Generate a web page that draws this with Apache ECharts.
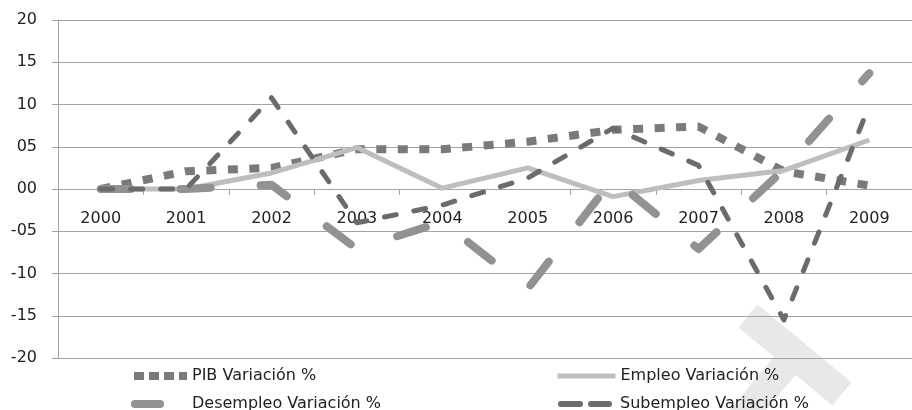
<!DOCTYPE html>
<html>
<head>
<meta charset="utf-8">
<script src="https://cdn.jsdelivr.net/npm/echarts@6/dist/echarts.min.js"></script>
<style>
html, body { margin: 0; padding: 0; background: #fff; }
#chart { width: 912px; height: 410px; }
</style>
</head>
<body>
<div id="chart"></div>
<script>
var years = ['2000', '2001', '2002', '2003', '2004', '2005', '2006', '2007', '2008', '2009'];
var pib = [0, 2.1, 2.5, 4.7, 4.7, 5.6, 7.0, 7.4, 2.1, 0.4];
var empleo = [0, 0, 1.9, 4.9, 0.1, 2.5, -0.9, 1.0, 2.2, 5.8];
var desempleo = [0, 0, 0.5, -7.1, -3.9, -11.8, 1.2, -7.1, 2.3, 13.7];
var subempleo = [0, 0, 10.8, -4.0, -1.9, 1.3, 7.2, 2.8, -15.5, 9.9];
var yTicks = [-20, -15, -10, -5, 0, 5, 10, 15, 20];
var yTickLabels = ['-20', '-15', '-10', '-05', '00', '05', '10', '15', '20'];
var names = ['PIB Variación %', 'Empleo Variación %', 'Desempleo Variación %', 'Subempleo Variación %'];

var font = 'DejaVu Sans';
var txt = { fontFamily: font, fontSize: 16, color: '#222' };

function legendAt(name, left, top, w, lineStyle, pad) {
    return {
        data: [name], left: left, top: top, padding: 0,
        itemWidth: w, itemHeight: 14,
        itemStyle: { opacity: 0 },
        lineStyle: lineStyle,
        textStyle: Object.assign({ padding: [0, 0, 0, pad] }, txt)
    };
}

var chart = echarts.init(document.getElementById('chart'));
chart.setOption({
    animation: false,
    grid: { left: 58, right: -10, top: 20, bottom: 52 },
    graphic: [
        // light watermark in the lower right
        { type: 'polyline', z: -10, shape: { points: [[748, 316], [842, 394]] },
          style: { stroke: '#e8e8e8', lineWidth: 30, fill: null } },
        { type: 'polyline', z: -10, shape: { points: [[798, 350], [738, 422]] },
          style: { stroke: '#e8e8e8', lineWidth: 28, fill: null } }
    ],
    legend: [
        legendAt(names[0], 130, 368, 53, { width: 8, type: [10, 5], cap: 'butt' }, 0),
        legendAt(names[1], 555, 368, 58, { width: 5 }, 0),
        legendAt(names[2], 131, 396, 25, { width: 8, type: 'solid', cap: 'round' }, 27),
        legendAt(names[3], 558, 396, 48, { width: 6, type: [19, 11], cap: 'round' }, 6)
    ],
    xAxis: {
        type: 'category',
        data: years,
        boundaryGap: true,
        offset: -169,
        axisLine: { onZero: false, lineStyle: { color: '#a3a3a3', width: 1 } },
        axisTick: { show: true, interval: 0, length: 6, lineStyle: { color: '#a3a3a3' } },
        axisLabel: Object.assign({ margin: 22, interval: 0 }, txt),
        splitLine: { show: false }
    },
    yAxis: {
        type: 'value',
        min: -20, max: 20, interval: 5,
        axisLine: { show: true, lineStyle: { color: '#a3a3a3', width: 1 } },
        axisTick: { show: true, length: 6, lineStyle: { color: '#a3a3a3' } },
        axisLabel: Object.assign({
            margin: 21,
            formatter: function (v) { return yTickLabels[yTicks.indexOf(v)]; }
        }, txt),
        splitLine: { show: true, lineStyle: { color: '#a3a3a3', width: 1 } }
    },
    series: [
        { name: names[0], type: 'line', data: pib, symbol: 'none',
          lineStyle: { color: '#7a7a7a', width: 8, type: [10, 11.5], cap: 'butt' },
          itemStyle: { color: '#7a7a7a' } },
        { name: names[1], type: 'line', data: empleo, symbol: 'none',
          lineStyle: { color: '#bebebe', width: 5, join: 'round' },
          itemStyle: { color: '#bebebe' } },
        { name: names[2], type: 'line', data: desempleo, symbol: 'none',
          lineStyle: { color: '#929292', width: 8, type: [30, 50], cap: 'round', join: 'round' },
          itemStyle: { color: '#929292' } },
        { name: names[3], type: 'line', data: subempleo, symbol: 'none',
          lineStyle: { color: '#6b6b6b', width: 5, type: [12, 18], cap: 'round', join: 'round' },
          itemStyle: { color: '#6b6b6b' } }
    ]
});
</script>
</body>
</html>
